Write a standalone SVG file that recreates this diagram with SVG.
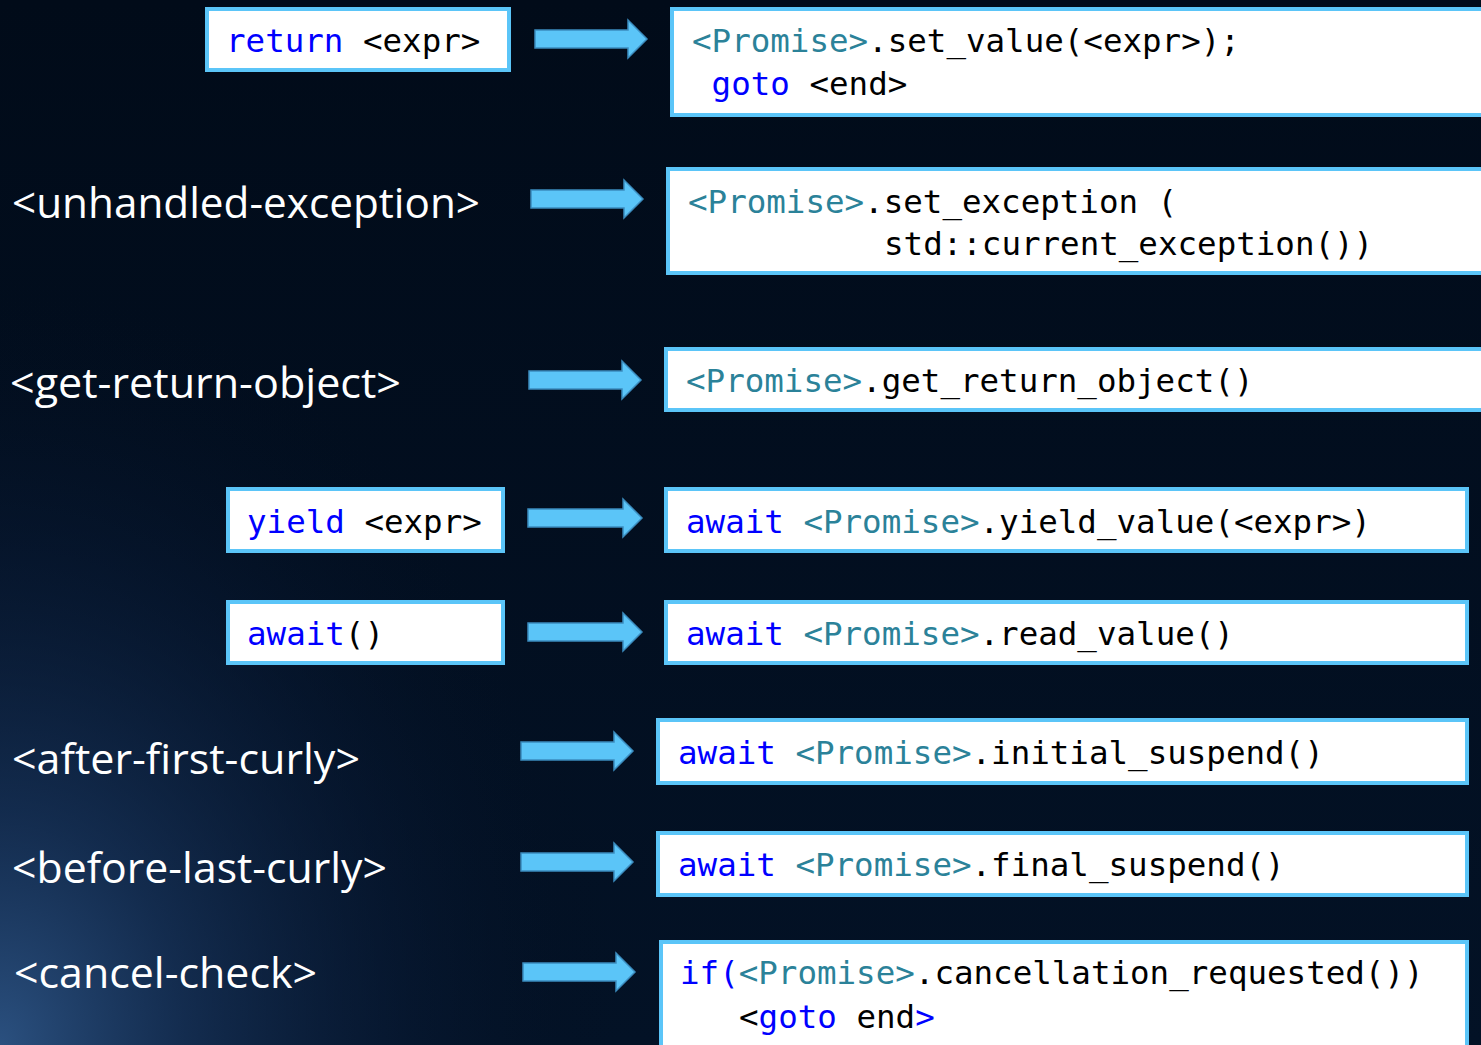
<svg xmlns="http://www.w3.org/2000/svg" width="1481" height="1045" viewBox="0 0 1481 1045">
<defs>
<radialGradient id="glow" cx="0" cy="1045" r="620" gradientUnits="userSpaceOnUse" gradientTransform="translate(0 1045) scale(1 1.25) translate(0 -1045)">
<stop offset="0" stop-color="#2f5789" stop-opacity="0.9"/>
<stop offset="0.3" stop-color="#1a3760" stop-opacity="0.7"/>
<stop offset="0.65" stop-color="#0b1e3c" stop-opacity="0.4"/>
<stop offset="1" stop-color="#020d1e" stop-opacity="0"/>
</radialGradient>
<linearGradient id="bg" x1="0" y1="0" x2="0" y2="1">
<stop offset="0" stop-color="#010b19"/>
<stop offset="1" stop-color="#031226"/>
</linearGradient>
<style>
.box{fill:#ffffff;stroke:#5bc5f8;stroke-width:4}
.arrow{fill:#5bc5f8;stroke:#3b8cbf;stroke-width:1.5;stroke-linejoin:miter}
.code{font-family:"DejaVu Sans Mono","Liberation Mono",monospace;font-size:32.5px;fill:#000000}
.kw{fill:#0000ff}
.ty{fill:#2b8299}
.lbl{font-family:"Open Sans","Noto Sans","Liberation Sans",sans-serif;font-size:42px;fill:#ffffff}
</style>
</defs>
<rect width="1481" height="1045" fill="url(#bg)"/>
<rect width="1481" height="1045" fill="url(#glow)"/>

<g id="connectors">
<path class="arrow" d="M535,30 H628 V20 L647,39 L628,58 V48 H535 Z"/>
<path class="arrow" d="M531,190 H624 V180 L643,199 L624,218 V208 H531 Z"/>
<path class="arrow" d="M529,371 H622 V361 L641,380 L622,399 V389 H529 Z"/>
<path class="arrow" d="M528,509 H623 V499 L642,518 L623,537 V527 H528 Z"/>
<path class="arrow" d="M528,623 H623 V613 L642,632 L623,651 V641 H528 Z"/>
<path class="arrow" d="M521,742 H614 V732 L633,751 L614,770 V760 H521 Z"/>
<path class="arrow" d="M521,853 H614 V843 L633,862 L614,881 V871 H521 Z"/>
<path class="arrow" d="M523,963 H616 V953 L635,972 L616,991 V981 H523 Z"/>
</g>

<g id="n-return">
<rect class="box" x="207" y="9" width="302" height="61"/>
<text class="code" x="226" y="52"><tspan class="kw">return</tspan> &lt;expr&gt;</text>
</g>
<g id="n-set-value">
<rect class="box" x="672" y="9" width="820" height="106"/>
<text class="code" x="692" y="52"><tspan class="ty">&lt;Promise&gt;</tspan>.set_value(&lt;expr&gt;);</text>
<text class="code" x="711.6" y="95"><tspan class="kw">goto</tspan> &lt;end&gt;</text>
</g>

<g id="n-unhandled">
<text class="lbl" x="12" y="218" textLength="468" lengthAdjust="spacingAndGlyphs">&lt;unhandled-exception&gt;</text>
</g>
<g id="n-set-exception">
<rect class="box" x="668" y="169" width="820" height="104"/>
<text class="code" x="688" y="213"><tspan class="ty">&lt;Promise&gt;</tspan>.set_exception (</text>
<text class="code" x="884" y="255">std::current_exception())</text>
</g>

<g id="n-get-return">
<text class="lbl" x="10" y="398" textLength="391" lengthAdjust="spacingAndGlyphs">&lt;get-return-object&gt;</text>
</g>
<g id="n-get-return-object">
<rect class="box" x="666" y="349" width="820" height="61"/>
<text class="code" x="686" y="392"><tspan class="ty">&lt;Promise&gt;</tspan>.get_return_object()</text>
</g>

<g id="n-yield">
<rect class="box" x="228" y="489" width="275" height="62"/>
<text class="code" x="247" y="533"><tspan class="kw">yield</tspan> &lt;expr&gt;</text>
</g>
<g id="n-yield-value">
<rect class="box" x="666" y="489" width="801" height="62"/>
<text class="code" x="686" y="533"><tspan class="kw">await</tspan> <tspan class="ty">&lt;Promise&gt;</tspan>.yield_value(&lt;expr&gt;)</text>
</g>

<g id="n-await">
<rect class="box" x="228" y="602" width="275" height="61"/>
<text class="code" x="247" y="645"><tspan class="kw">await</tspan>()</text>
</g>
<g id="n-read-value">
<rect class="box" x="666" y="602" width="801" height="61"/>
<text class="code" x="686" y="645"><tspan class="kw">await</tspan> <tspan class="ty">&lt;Promise&gt;</tspan>.read_value()</text>
</g>

<g id="n-after-first">
<text class="lbl" x="12" y="774" textLength="348" lengthAdjust="spacingAndGlyphs">&lt;after-first-curly&gt;</text>
</g>
<g id="n-initial-suspend">
<rect class="box" x="658" y="720" width="809" height="63"/>
<text class="code" x="678" y="764"><tspan class="kw">await</tspan> <tspan class="ty">&lt;Promise&gt;</tspan>.initial_suspend()</text>
</g>

<g id="n-before-last">
<text class="lbl" x="12" y="883" textLength="375" lengthAdjust="spacingAndGlyphs">&lt;before-last-curly&gt;</text>
</g>
<g id="n-final-suspend">
<rect class="box" x="658" y="833" width="809" height="62"/>
<text class="code" x="678" y="876"><tspan class="kw">await</tspan> <tspan class="ty">&lt;Promise&gt;</tspan>.final_suspend()</text>
</g>

<g id="n-cancel">
<text class="lbl" x="14" y="988" textLength="303" lengthAdjust="spacingAndGlyphs">&lt;cancel-check&gt;</text>
</g>
<g id="n-cancellation">
<rect class="box" x="661" y="942" width="806" height="110"/>
<text class="code" x="680" y="984"><tspan class="kw">if(</tspan><tspan class="ty">&lt;Promise&gt;</tspan>.cancellation_requested())</text>
<text class="code" x="739" y="1028">&lt;<tspan class="kw">goto</tspan> end<tspan class="kw">&gt;</tspan></text>
</g>
</svg>
